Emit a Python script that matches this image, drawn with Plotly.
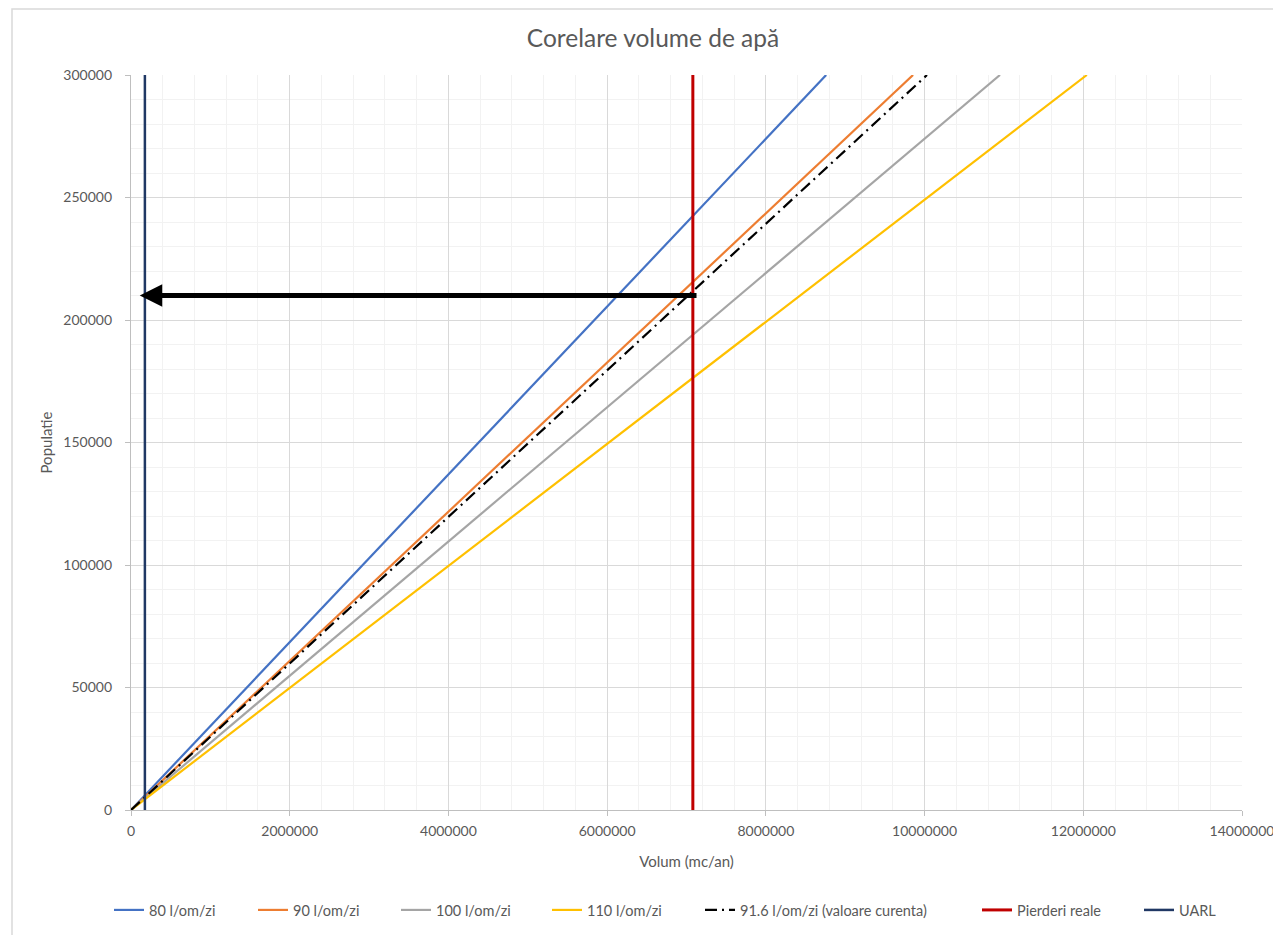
import plotly.graph_objects as go

# Data
population = [0, 300000]
series_names = ["80 l/om/zi", "90 l/om/zi", "100 l/om/zi", "110 l/om/zi", "91.6 l/om/zi (valoare curenta)"]
series_volume_end = [8760000, 9855000, 10950000, 12045000, 10030200]
series_colors = ["#4472C4", "#ED7D31", "#A5A5A5", "#FFC000", "#000000"]
series_dash = ["solid", "solid", "solid", "solid", "12px,5px,2px,5px"]

pierderi_reale_x = 7080000
uarl_x = 175000
arrow_y = 210000
arrow_from_x = 7145000
arrow_to_x = 110000

FONT = "Lato, 'Open Sans', sans-serif"
GRAY = "#595959"

# page layout (the page body adds an 8px offset)
OFF = 8
ML, MT = 131 - OFF, 75 - OFF
PW, PH = 1111, 735
MR = 1281 - ML - PW
MB = 935 - MT - PH

# text start positions of legend entries in the page (px)
legend_text_px = [149, 293, 436, 587, 740, 1017, 1179]
legend_ids = ["legend", "legend2", "legend3", "legend4", "legend5", "legend6", "legend7"]

fig = go.Figure()
for i, (name, vend, col, dash) in enumerate(zip(series_names, series_volume_end, series_colors, series_dash)):
    fig.add_trace(go.Scatter(
        x=[0, vend], y=population, mode="lines", name=name,
        line=dict(color=col, width=2.2, dash=dash), legend=legend_ids[i],
    ))

fig.add_trace(go.Scatter(
    x=[pierderi_reale_x, pierderi_reale_x], y=population, mode="lines",
    name="Pierderi reale", line=dict(color="#C00000", width=3), legend=legend_ids[5],
))
fig.add_trace(go.Scatter(
    x=[uarl_x, uarl_x], y=population, mode="lines",
    name="UARL", line=dict(color="#203864", width=2.5), legend=legend_ids[6],
))

fig.add_annotation(
    x=arrow_to_x, y=arrow_y, ax=arrow_from_x, ay=arrow_y,
    xref="x", yref="y", axref="x", ayref="y",
    showarrow=True, arrowhead=2, arrowsize=0.9, arrowwidth=5,
    arrowcolor="#000000", text="",
)

# Chart border
fig.add_shape(type="rect", xref="paper", yref="paper",
              x0=(12 - OFF - ML) / PW, x1=(1300 - ML) / PW,
              y0=(MT + PH - 960) / PH, y1=(MT + PH - 1) / PH,
              line=dict(color="#D9D9D9", width=1.5), fillcolor="rgba(0,0,0,0)", layer="below")

legend_y = (MT + PH - (910 - OFF)) / PH
legends = {}
for lid, tx in zip(legend_ids, legend_text_px):
    legends[lid] = dict(
        orientation="h", x=(tx - OFF - ML - 40) / PW, xanchor="left",
        y=legend_y, yanchor="middle", xref="paper", yref="paper",
        font=dict(family=FONT, size=14.5, color=GRAY),
        bgcolor="rgba(0,0,0,0)", borderwidth=0,
    )

fig.update_layout(
    width=1281, height=935,
    margin=dict(l=ML, r=MR, t=MT, b=MB),
    paper_bgcolor="white", plot_bgcolor="white",
    font=dict(family=FONT, color=GRAY, size=14),
    title=dict(text="Corelare volume de apă", x=(653 - OFF - ML) / PW, xref="paper", xanchor="center",
               y=1 - (38 - OFF) / 935, yanchor="middle",
               font=dict(family=FONT, size=24.5, color=GRAY)),
    showlegend=True,
    xaxis=dict(
        range=[0, 14000000], tickmode="linear", tick0=0, dtick=2000000,
        tickformat="d", showgrid=True, gridcolor="#D9D9D9", gridwidth=1.3,
        minor=dict(dtick=400000, showgrid=True, gridcolor="#F2F2F2", gridwidth=1.3),
        showline=True, linecolor="#BFBFBF", linewidth=1.3,
        ticks="outside", ticklen=5, tickcolor="#BFBFBF",
        zeroline=False, ticklabelstandoff=3,
        title=dict(text="Volum (mc/an)", font=dict(family=FONT, size=15, color=GRAY), standoff=18),
        tickfont=dict(family=FONT, size=14, color=GRAY),
    ),
    yaxis=dict(
        range=[0, 300000], tickmode="linear", tick0=0, dtick=50000,
        tickformat="d", showgrid=True, gridcolor="#D9D9D9", gridwidth=1.3,
        minor=dict(dtick=10000, showgrid=True, gridcolor="#F2F2F2", gridwidth=1.3),
        showline=True, linecolor="#BFBFBF", linewidth=1.3,
        ticks="outside", ticklen=5, tickcolor="#BFBFBF",
        zeroline=False, ticklabelstandoff=10,
        title=dict(text="Populatie", font=dict(family=FONT, size=15, color=GRAY), standoff=7),
        tickfont=dict(family=FONT, size=14, color=GRAY),
    ),
    **legends,
)

fig.write_html("out.html")
